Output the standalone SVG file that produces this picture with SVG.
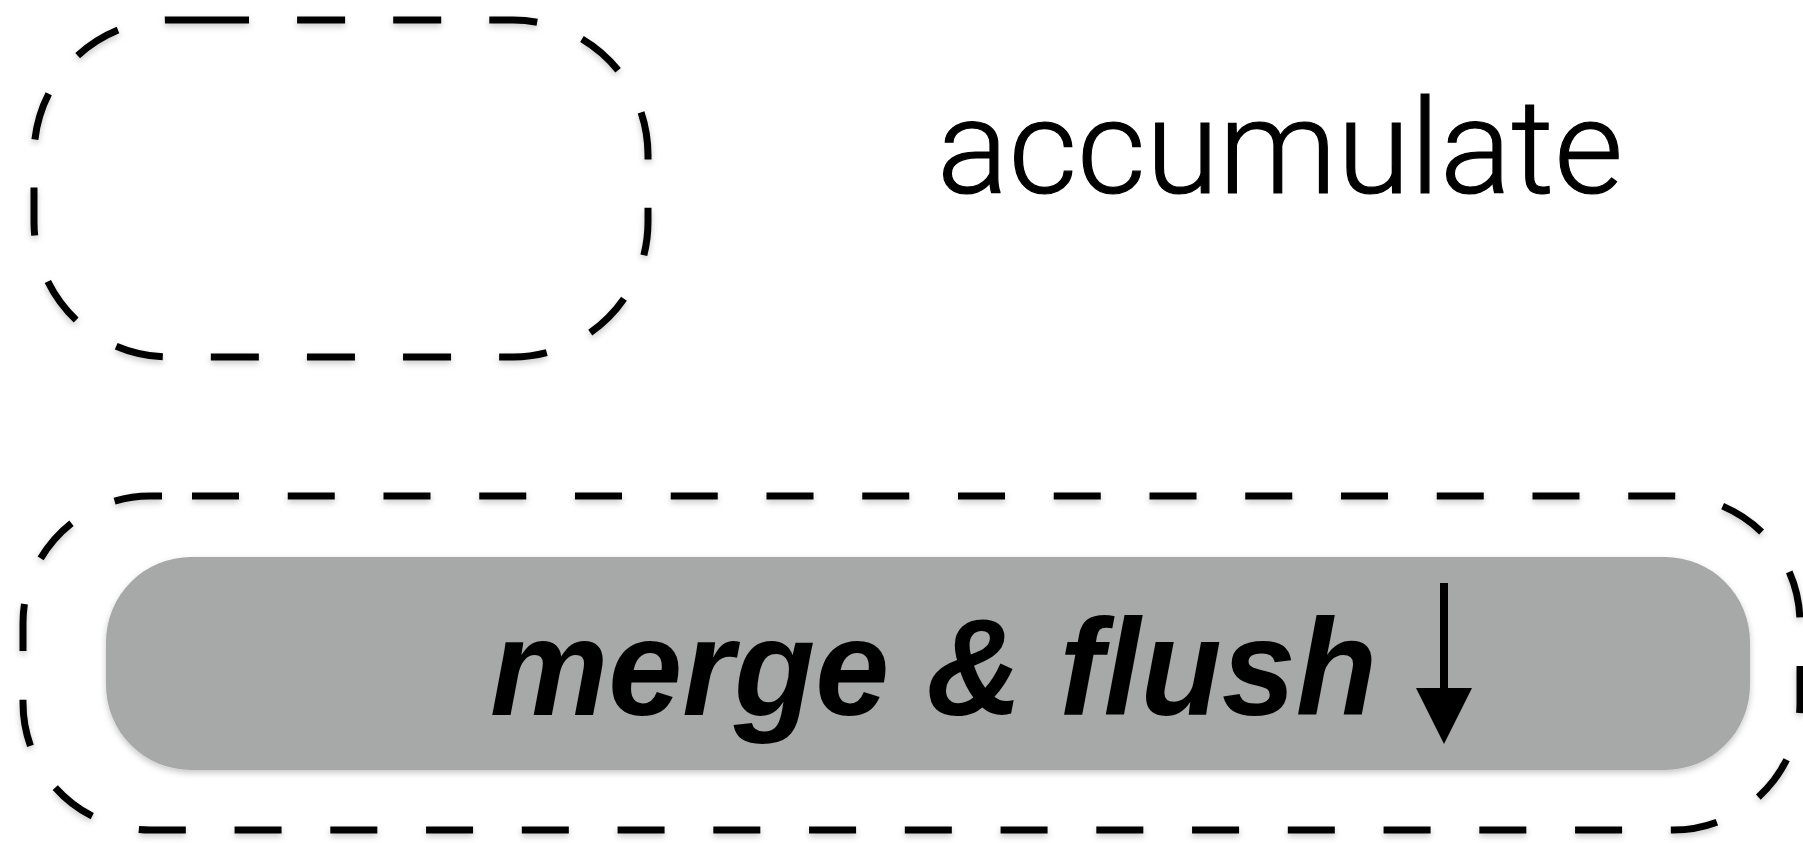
<svg xmlns="http://www.w3.org/2000/svg" width="1803" height="843" viewBox="0 0 1803 843">
<defs>
<filter id="sh" x="-5%" y="-5%" width="110%" height="120%">
<feDropShadow dx="0" dy="3" stdDeviation="3" flood-color="#000" flood-opacity="0.22"/>
</filter>
<style>
.dash{fill:none;stroke:#000;stroke-width:7;}
.pill{fill:#a6a9a8;}
.lbl{font-family:Roboto,"Liberation Sans",sans-serif;font-weight:300;font-size:131px;fill:#000;stroke:#000;stroke-width:1.2;}
.bold{font-family:"Liberation Sans",Arial,sans-serif;font-weight:bold;font-style:italic;font-size:137px;fill:#000;}
</style>
</defs>
<rect width="1803" height="843" fill="#fff"/>
<g id="accumulate-box" filter="url(#sh)">
<rect class="dash" x="34" y="20" width="614" height="337" rx="135" ry="135" stroke-dasharray="80 48.1 48 48.1 48 48.1 48 48.1 48 48.1 48 48.1 48 48.1 48 48.1 48 48.1 48 48.1 48 48.1 48 48.1 48 48.1 48 48.1 48 48.1 48 48.1 48 48.1 4.5 20"/>
</g>
<g id="accumulate-label">
<text class="lbl" x="937" y="193" textLength="686" lengthAdjust="spacingAndGlyphs">accumulate</text>
</g>
<g id="merge-box" filter="url(#sh)">
<rect class="dash" x="23" y="496" width="1777" height="334" rx="127" ry="127" stroke-dasharray="12 30 47 48.75 47 48.75 47 48.75 47 48.75 47 48.75 47 48.75 47 48.75 47 48.75 47 48.75 47 48.75 47 48.75 47 48.75 47 48.75 47 48.75 47 48.75 47 48.75 47 48.75 47 48.75 47 48.75 47 48.75 47 48.75 47 48.75 47 48.75 47 48.75 47 48.75 47 48.75 47 48.75 47 48.75 47 48.75 47 48.75 47 48.75 47 48.75 47 48.75 47 48.75 47 48.75 47 48.75 47 48.75 47 48.75 47 48.75 47 48.75 47 48.75 36.25 10"/>
</g>
<g id="merge-flush">
<rect class="pill" x="106" y="557" width="1644" height="213" rx="85" ry="85" filter="url(#sh)"/>
<text class="bold" x="490" y="715" textLength="887" lengthAdjust="spacingAndGlyphs">merge &amp; flush</text>
</g>
<g id="connectors">
<line x1="1444" y1="583" x2="1444" y2="694" stroke="#000" stroke-width="8"/>
<polygon points="1416,688 1472,688 1444,744" fill="#000"/>
</g>
</svg>
